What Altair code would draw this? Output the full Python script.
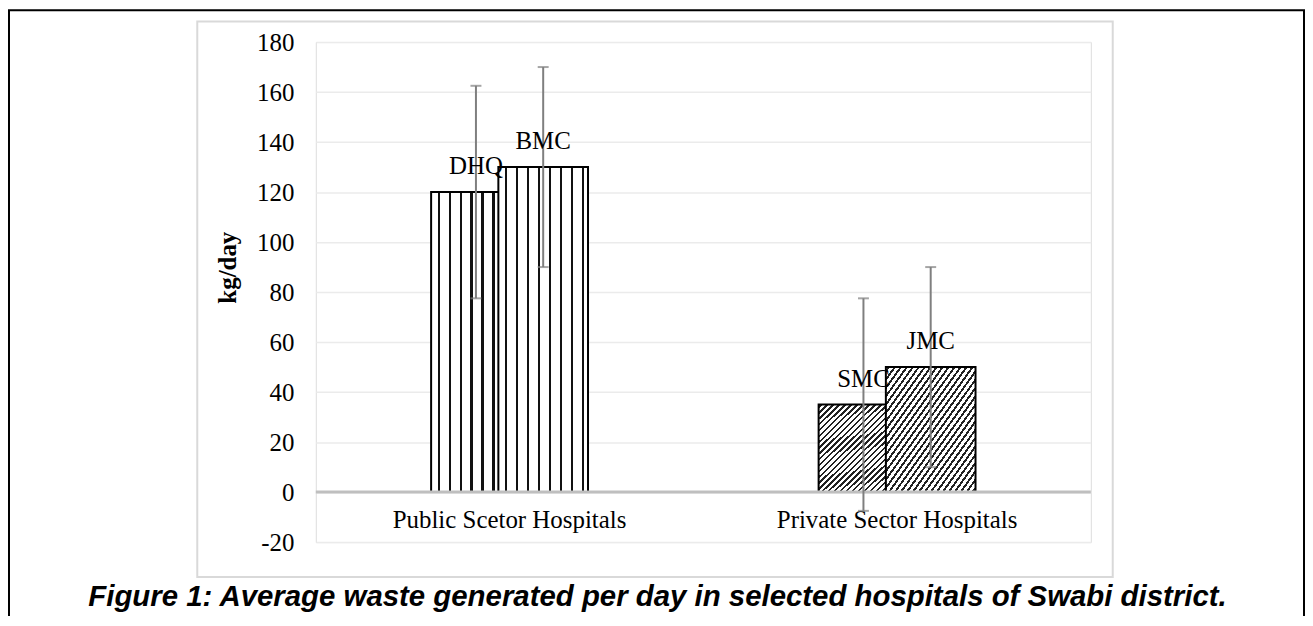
import altair as alt
import pandas as pd

# ---- data ----
sectors = ["Public Scetor Hospitals", "Public Scetor Hospitals",
           "Private Sector Hospitals", "Private Sector Hospitals"]
hospitals = ["DHQ", "BMC", "SMC", "JMC"]
waste_kg_day = [120, 130, 35, 50]
error_kg_day = [42.5, 40, 42.5, 40]
sector_order = ["Public Scetor Hospitals", "Private Sector Hospitals"]
y_ticks = [-20, 0, 20, 40, 60, 80, 100, 120, 140, 160, 180]
caption = "Figure 1: Average waste generated per day in selected hospitals of Swabi district."

df = pd.DataFrame({"sector": sectors, "hospital": hospitals,
                   "waste": waste_kg_day, "err": error_kg_day})
deco = pd.DataFrame({"k": [0]})

SERIF = "Liberation Serif"
SANS = "Liberation Sans"
FS = 25


def vertical_stripes():
    stops = [alt.GradientStop(offset=0, color="white")]
    w = 90.0
    for i in range(8):
        c = 7.8 + 11 * i
        a, b = (c - 1.3) / w, (c + 1.3) / w
        stops += [alt.GradientStop(offset=a, color="white"),
                  alt.GradientStop(offset=a, color="#111111"),
                  alt.GradientStop(offset=b, color="#111111"),
                  alt.GradientStop(offset=b, color="white")]
    stops.append(alt.GradientStop(offset=1, color="white"))
    return alt.Gradient(gradient="linear", stops=stops, x1=0, x2=1, y1=0, y2=0)


def diagonal_hatch():
    n = 30
    stops = [alt.GradientStop(offset=0, color="white")]
    for i in range(n):
        s = i / n
        a, b = s + 0.30 / n, s + 0.70 / n
        stops += [alt.GradientStop(offset=a, color="white"),
                  alt.GradientStop(offset=a, color="#222222"),
                  alt.GradientStop(offset=b, color="#222222"),
                  alt.GradientStop(offset=b, color="white")]
    stops.append(alt.GradientStop(offset=1, color="white"))
    return alt.Gradient(gradient="linear", stops=stops, x1=0, y1=0, x2=1, y2=1)


base = alt.Chart(df).transform_window(
    idx="row_number()", groupby=["sector"]
).transform_calculate(
    lo="datum.waste - datum.err", hi="datum.waste + datum.err"
)

x_enc = alt.X("sector:N", sort=sector_order,
              scale=alt.Scale(paddingInner=0, paddingOuter=0),
              axis=alt.Axis(title=None, labelAngle=0, ticks=False, domain=False,
                            labelPadding=15, offset=-50, labelFont=SERIF,
                            labelFontSize=FS, labelColor="black", grid=False,
                            labelLimit=0))
xo_enc = alt.XOffset("idx:O", scale=alt.Scale(range=[127, 262], paddingInner=0, paddingOuter=0))
y_enc = alt.Y("waste:Q",
              scale=alt.Scale(domain=[-20, 180], nice=False, zero=False),
              axis=alt.Axis(values=y_ticks, title="kg/day", ticks=False, domain=False,
                            labelExpr="'' + datum.value",
                            labelPadding=22, labelFont=SERIF, labelFontSize=FS,
                            labelColor="black", grid=True, gridColor="#ebebeb",
                            gridWidth=1.5, titleFont=SERIF, titleFontSize=FS,
                            titleFontWeight="bold", titleColor="black",
                            titleAngle=270, titleX=-89, titleY=226,
                            titleAlign="center", titleBaseline="middle"))

public_bars = base.transform_filter(
    alt.datum.sector == sector_order[0]
).mark_bar(size=90, fill=vertical_stripes(), stroke="black", strokeWidth=2).encode(
    x=x_enc, xOffset=xo_enc, y=y_enc)

private_bars = base.transform_filter(
    alt.datum.sector == sector_order[1]
).mark_bar(size=90, fill=diagonal_hatch(), stroke="black", strokeWidth=2).encode(
    x=x_enc, xOffset=xo_enc, y=y_enc)

zero_line = alt.Chart(deco).mark_rule(color="#bfbfbf", strokeWidth=3).encode(
    y=alt.datum(0))

err_rule = base.mark_rule(color="#7f7f7f", strokeWidth=2).encode(
    x=x_enc, xOffset=xo_enc, y="lo:Q", y2="hi:Q")
cap_lo = base.mark_tick(color="#7f7f7f", thickness=2, size=11, orient="horizontal").encode(
    x=x_enc, xOffset=xo_enc, y="lo:Q")
cap_hi = base.mark_tick(color="#7f7f7f", thickness=2, size=11, orient="horizontal").encode(
    x=x_enc, xOffset=xo_enc, y="hi:Q")

labels = base.mark_text(font=SERIF, fontSize=FS, color="black", dy=-18,
                        baseline="alphabetic").encode(
    x=x_enc, xOffset=xo_enc, y="waste:Q", text="hospital:N")

inner_frame = alt.Chart(deco).mark_rect(fillOpacity=0, stroke="#d9d9d9", strokeWidth=2).encode(
    x=alt.value(-119), x2=alt.value(800), y=alt.value(-20.5), y2=alt.value(537))
outer_frame = alt.Chart(deco).mark_rect(fillOpacity=0, stroke="black", strokeWidth=2).encode(
    x=alt.value(-308), x2=alt.value(992), y=alt.value(-32), y2=alt.value(700))

cap = alt.Chart(deco).mark_text(text=caption, font=SANS, fontSize=29.5, fontWeight="bold",
                                fontStyle="italic", color="black", align="center",
                                baseline="alphabetic").encode(
    x=alt.value(343), y=alt.value(566))

chart = alt.layer(
    public_bars, private_bars, zero_line, err_rule, cap_lo, cap_hi, labels,
    inner_frame, outer_frame, cap
).properties(
    width=778, height=502,
    autosize=alt.AutoSizeParams(type="none"),
    padding={"left": 309, "top": 33, "right": 215, "bottom": 73},
).configure_view(stroke=None).configure(background="white")

chart.save("out.html", embed_options={"renderer": "svg", "actions": False})
